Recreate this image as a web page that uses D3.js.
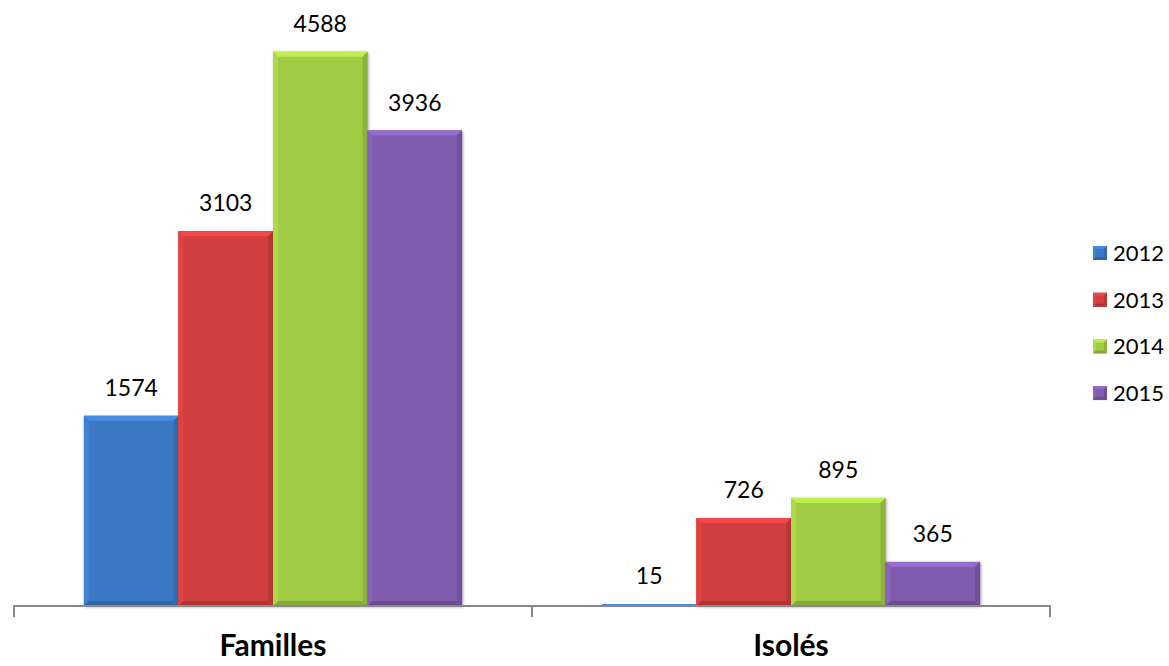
<!DOCTYPE html>
<html lang="fr">
<head>
<meta charset="UTF-8" />
<title>Familles / Isolés</title>
<style>
  body { margin: 0; background: #fff; }
  text { font-family: Lato, "Open Sans", sans-serif; fill: #000; }
</style>
</head>
<body>
<div id="container"></div>
<script src="https://cdnjs.cloudflare.com/ajax/libs/d3/7.8.5/d3.min.js"></script>
<script>
  // données
  const categories = ["Familles", "Isolés"];
  const years = ["2012", "2013", "2014", "2015"];
  const values2012 = [1574, 15];
  const values2013 = [3103, 726];
  const values2014 = [4588, 895];
  const values2015 = [3936, 365];
  const colors = ["#3b78c4", "#d13e3e", "#a2cb45", "#7f5cad"];

  const series = [values2012, values2013, values2014, values2015];
  const W = 1169, H = 666;
  const axisY = 606, axisL = 14, axisR = 1050;

  const svg = d3.select("#container").append("svg").attr("width", W).attr("height", H);

  const x0 = d3.scaleBand().domain(categories).range([axisL, axisR]).paddingInner(0.27).paddingOuter(0.135);
  const x1 = d3.scaleBand().domain(years).range([0, x0.bandwidth()]);
  const y = d3.scaleLinear().domain([0, 5000]).range([axisY, 2]);

  const data = [];
  categories.forEach((c, ci) => years.forEach((yr, yi) => data.push({ c, yr, yi, v: series[yi][ci] })));

  // ombre
  const defs = svg.append("defs");
  const f = defs.append("filter").attr("id", "sh").attr("x", "-10%").attr("y", "-10%").attr("width", "130%").attr("height", "130%");
  f.append("feDropShadow").attr("dx", 1).attr("dy", 1).attr("stdDeviation", 1.5).attr("flood-opacity", 0.35);

  const bars = svg.selectAll("g.bar").data(data).enter().append("g")
    .attr("class", "bar")
    .attr("transform", d => `translate(${x0(d.c) + x1(d.yr)},0)`);

  const bw = x1.bandwidth();
  const b = 5;
  // biseau autour de chaque barre
  function bevel(g, x, top, w, bot, col, e) {
    g.append("rect").attr("x", x).attr("y", top).attr("width", w).attr("height", bot - top)
      .attr("fill", col);
    g.append("path").attr("d", `M${x},${top}L${x + w},${top}L${x + w - e},${top + e}L${x + e},${top + e}Z`)
      .attr("fill", col.brighter(0.45));
    g.append("path").attr("d", `M${x},${top}L${x + e},${top + e}L${x + e},${bot - e}L${x},${bot}Z`)
      .attr("fill", col.brighter(0.2));
    g.append("path").attr("d", `M${x + w},${top}L${x + w - e},${top + e}L${x + w - e},${bot - e}L${x + w},${bot}Z`)
      .attr("fill", col.darker(0.35));
    g.append("path").attr("d", `M${x},${bot}L${x + e},${bot - e}L${x + w - e},${bot - e}L${x + w},${bot}Z`)
      .attr("fill", col.darker(0.5));
  }

  bars.each(function (d) {
    const g = d3.select(this);
    const top = y(d.v), bot = axisY;
    const col = d3.color(colors[d.yi]);
    g.append("rect").attr("x", 0).attr("y", top).attr("width", bw).attr("height", bot - top)
      .attr("fill", col).attr("filter", "url(#sh)");
    bevel(g, 0, top, bw, bot, col, Math.min(b, (bot - top) / 2));
  });

  bars.append("text")
    .attr("x", bw / 2)
    .attr("y", d => y(d.v) - 20)
    .attr("text-anchor", "middle")
    .style("font-size", "23px")
    .text(d => d.v);

  // axe
  svg.append("path")
    .attr("d", `M${axisL},${axisY + 11}V${axisY}H${axisR}V${axisY + 11}M${(axisL + axisR) / 2},${axisY}V${axisY + 11}`)
    .attr("fill", "none").attr("stroke", "#888").attr("stroke-width", 2);

  svg.selectAll("text.cat").data(categories).enter().append("text")
    .attr("class", "cat")
    .attr("x", d => x0(d) + x0.bandwidth() / 2)
    .attr("y", 656)
    .attr("text-anchor", "middle")
    .style("font-size", "30px").style("font-weight", "bold")
    .text(d => d);

  // légende
  const leg = svg.selectAll("g.leg").data(years).enter().append("g")
    .attr("class", "leg")
    .attr("transform", (d, i) => `translate(1093,${253 + i * 46.7})`);
  leg.each(function (d, i) {
    bevel(d3.select(this), 0, -7, 14, 7, d3.color(colors[i]), 3);
  });
  leg.append("text").attr("x", 20).attr("y", 8).style("font-size", "22px").text(d => d);
</script>
</body>
</html>
